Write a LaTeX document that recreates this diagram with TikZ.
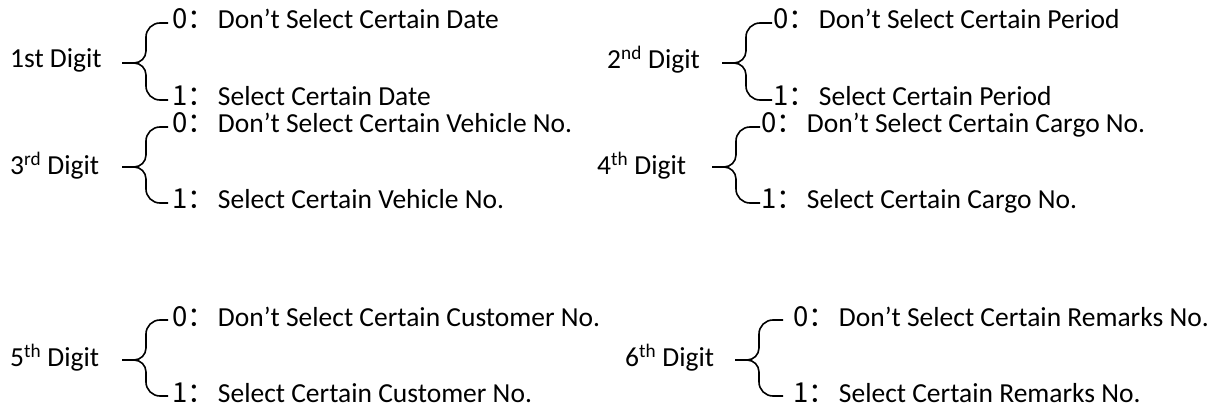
\documentclass[tikz,border=0pt]{standalone}
\usepackage{fontspec}
\setmainfont{Carlito}
\newfontfamily\cjk{Noto Sans CJK SC}
\newcommand{\zero}{{\cjk 0：}\hspace{3pt}}
\newcommand{\one}{{\cjk 1：}\hspace{3pt}}

\begin{document}
\begin{tikzpicture}[x=1pt, y=1pt, font=\fontsize{27.5}{32}\selectfont,
  digit/.style={anchor=west, inner sep=0pt},
  choice/.style={anchor=west, inner ysep=0pt, inner xsep=4pt, text height=18pt, text depth=6pt},
  brace/.style={line width=1.6pt}]
\useasboundingbox (0,0) rectangle (1213,410);
% digit labels
\node[digit] (d1) at (10,350) {1st Digit};
\node[digit] (d2) at (607,350) {2\textsuperscript{nd} Digit};
\node[digit] (d3) at (10,244) {3\textsuperscript{rd} Digit};
\node[digit] (d4) at (597,244) {4\textsuperscript{th} Digit};
\node[digit] (d5) at (10,52) {5\textsuperscript{th} Digit};
\node[digit] (d6) at (625,52) {6\textsuperscript{th} Digit};
% the two choices of every digit
\node[choice] (d1a) at (168,387) {\zero Don’t Select Certain Date};
\node[choice] (d1b) at (168,310) {\one Select Certain Date};
\node[choice, inner xsep=1pt] (d2a) at (772,387) {\zero Don’t Select Certain Period};
\node[choice, inner xsep=1pt] (d2b) at (772,310) {\one Select Certain Period};
\node[choice] (d3a) at (168,283) {\zero Don’t Select Certain Vehicle No.};
\node[choice] (d3b) at (168,207) {\one Select Certain Vehicle No.};
\node[choice, inner xsep=1pt] (d4a) at (760,283) {\zero Don’t Select Certain Cargo No.};
\node[choice, inner xsep=1pt] (d4b) at (760,207) {\one Select Certain Cargo No.};
\node[choice] (d5a) at (168,90) {\zero Don’t Select Certain Customer No.};
\node[choice] (d5b) at (168,14) {\one Select Certain Customer No.};
\node[choice, inner xsep=10pt] (d6a) at (783,90) {\zero Don’t Select Certain Remarks No.};
\node[choice, inner xsep=10pt] (d6b) at (783,14) {\one Select Certain Remarks No.};
% brace tips
\coordinate (t1) at (122,347);
\coordinate (t2) at (722,347);
\coordinate (t3) at (122,243);
\coordinate (t4) at (712,243);
\coordinate (t5) at (122,50);
\coordinate (t6) at (735,50);
% braces
\foreach \i in {1,...,6} {
  \draw[brace] (t\i) -- ++(12,0) to[out=0, in=-90] ++(12,12) [rounded corners=14pt] |- (d\i a.west);
  \draw[brace] (t\i) ++(12,0) to[out=0, in=90] ++(12,-12) [rounded corners=14pt] |- (d\i b.west);
}
\end{tikzpicture}
\end{document}
